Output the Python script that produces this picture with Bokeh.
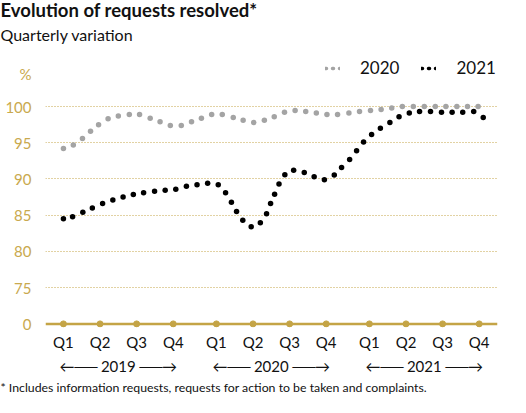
from bokeh.plotting import figure
from bokeh.models import (FixedTicker, Span, Legend, LegendItem, Title, LinearAxis, Range1d)
from bokeh.embed import file_html
from bokeh.resources import INLINE

# ---------------- data ----------------
quarters = ["Q1", "Q2", "Q3", "Q4"]
years = ["2019", "2020", "2021"]
series_names = ["2020", "2021"]

# x is in "quarter" units along the time axis (Q1 2019 = 0), y in %
gray_x = [0.0, 0.27, 0.52, 0.74, 0.96, 1.22, 1.50, 1.80, 2.08, 2.37, 2.64, 2.92,
          3.22, 3.50, 3.77, 4.05, 4.34, 4.64, 4.91, 5.20, 5.49, 5.76, 6.04, 6.33,
          6.62, 6.91, 7.20, 7.49, 7.80, 8.09, 8.39, 8.68, 8.97, 9.26, 9.56, 9.86,
          10.16, 10.45, 10.75, 11.04, 11.33]
gray_y = [94.2, 94.7, 95.6, 96.6, 97.5, 98.3, 98.7, 98.9, 98.9, 98.4, 97.9, 97.4,
          97.4, 97.9, 98.4, 98.9, 98.9, 98.5, 98.1, 97.8, 98.1, 98.6, 99.2, 99.45,
          99.3, 99.1, 98.9, 98.9, 99.1, 99.3, 99.45, 99.6, 99.8, 100.0, 100.0, 100.0,
          100.0, 100.0, 100.0, 100.0, 100.0]

black_x = [0.0, 0.25, 0.53, 0.79, 1.07, 1.35, 1.63, 1.91, 2.19, 2.49, 2.78, 3.07,
           3.36, 3.65, 3.94, 4.23, 4.43, 4.59, 4.73, 4.90, 5.13, 5.38, 5.55, 5.66,
           5.77, 5.89, 6.05, 6.29, 6.58, 6.85, 7.13, 7.40, 7.60, 7.82, 8.01, 8.20,
           8.42, 8.66, 8.92, 9.17, 9.45, 9.73, 10.03, 10.33, 10.62, 10.91, 11.21, 11.47]
black_y = [84.5, 84.8, 85.4, 86.0, 86.6, 87.1, 87.5, 87.85, 88.1, 88.3, 88.45, 88.6,
           89.0, 89.2, 89.4, 89.2, 88.1, 86.8, 85.5, 84.3, 83.4, 83.95, 85.2, 86.6,
           87.9, 89.3, 90.6, 91.2, 90.9, 90.3, 89.9, 90.55, 91.6, 92.7, 93.9, 95.1,
           96.15, 97.0, 97.8, 98.6, 99.1, 99.3, 99.3, 99.2, 99.2, 99.2, 99.3, 98.5]

y_ticks = [75, 80, 85, 90, 95, 100]

title_text = "Evolution of requests resolved*"
subtitle_text = "Quarterly variation"
footnote_text = "*  Includes information requests, requests for action to be taken and complaints."

# ---------------- layout / style ----------------
YEAR_GAP = 1.18          # extra space between years, in quarter units
BREAK_POS = 70           # where the "0" of the broken axis is drawn
PCT_POS = 104.5          # where the "%" unit label sits
GOLD = "#C4A446"
GOLD_TXT = "#C9A94E"
GRAY = "#A4A4A4"
INK = "#111111"
FONT = "Lato"
TXT_OFFSET = -45

qpos = []
for yi in range(len(years)):
    for qi in range(len(quarters)):
        qpos.append(round(yi * (len(quarters) - 1 + YEAR_GAP) + qi, 2))
year_centers = [round(sum(qpos[i * 4:(i + 1) * 4]) / 4, 3) for i in range(len(years))]

p = figure(width=510, height=397, output_backend="svg", toolbar_location=None,
           x_range=Range1d(-0.49, 11.86), y_range=Range1d(69.5, 107.46),
           min_border_left=45, min_border_right=13, min_border_top=52,
           min_border_bottom=70, title=None)
p.outline_line_color = None
p.background_fill_color = "white"
p.border_fill_color = "white"

# grid
p.xgrid.visible = False
p.ygrid.ticker = FixedTicker(ticks=y_ticks)
p.ygrid.grid_line_color = GOLD
p.ygrid.grid_line_dash = "1 2"
p.ygrid.grid_line_width = 1

def plain_axis(ax, color, standoff):
    ax.axis_line_color = None
    ax.major_tick_line_color = None
    ax.minor_tick_line_color = None
    ax.major_tick_out = 0
    ax.major_tick_in = 0
    ax.minor_tick_out = 0
    ax.minor_tick_in = 0
    ax.major_label_text_color = color
    ax.major_label_text_font = FONT
    ax.major_label_text_font_size = "15px"
    ax.major_label_standoff = standoff

# y axis (broken: 0 shown at BREAK_POS)
yax = p.yaxis[0]
yax.ticker = FixedTicker(ticks=[BREAK_POS] + y_ticks + [PCT_POS])
yax.major_label_overrides = {BREAK_POS: "0", PCT_POS: "%"}
plain_axis(yax, GOLD_TXT, 14)

# x axis: quarters
xax = p.xaxis[0]
xax.ticker = FixedTicker(ticks=qpos)
xax.major_label_overrides = {q: quarters[i % 4] for i, q in enumerate(qpos)}
plain_axis(xax, INK, 5)

# second x axis: years with arrows
yrax = LinearAxis(ticker=FixedTicker(ticks=year_centers))
yrax.major_label_overrides = {c: "\u2190\u2500\u2500 " + years[i] + " \u2500\u2500\u2192"
                              for i, c in enumerate(year_centers)}
plain_axis(yrax, INK, 3)
p.add_layout(yrax, "below")

# zero line with quarter markers
p.add_layout(Span(location=BREAK_POS, dimension="width", line_color=GOLD, line_width=2.5))
p.scatter(qpos, [BREAK_POS] * len(qpos), size=6, color=GOLD)

# series
p.scatter(gray_x, gray_y, size=5.5, color=GRAY, line_color=None)
p.scatter(black_x, black_y, size=5.5, color="black", line_color=None)

# hidden dotted lines, used only for the legend swatches
lg_gray = p.line(gray_x, gray_y, line_color=GRAY, line_width=3.5, line_dash="1 6",
                 line_cap="round", visible=False)
lg_black = p.line(black_x, black_y, line_color="black", line_width=3.5, line_dash="1 6",
                  line_cap="round", visible=False)
legend = Legend(items=[LegendItem(label=series_names[0], renderers=[lg_gray]),
                       LegendItem(label=series_names[1], renderers=[lg_black])],
                orientation="horizontal", location=(280, 249),
                glyph_width=15, glyph_height=16, label_height=16, label_standoff=20,
                spacing=22, padding=0, margin=0, border_line_color=None,
                background_fill_alpha=0, label_text_font=FONT,
                label_text_font_size="17px", label_text_color=INK,
                click_policy="none")
p.add_layout(legend)

# titles (first added sits nearest the frame)
p.add_layout(Title(text=subtitle_text, text_font=FONT, text_font_size="16px",
                   text_font_style="normal", text_color=INK, align="left",
                   offset=TXT_OFFSET, standoff=17), "above")
p.add_layout(Title(text=title_text, text_font=FONT, text_font_size="18.5px",
                   text_font_style="bold", text_color=INK, align="left",
                   offset=TXT_OFFSET, standoff=-12), "above")

# footnote
p.add_layout(Title(text=footnote_text, text_font=FONT, text_font_size="12.3px",
                   text_font_style="normal", text_color=INK, align="left",
                   offset=TXT_OFFSET, standoff=0), "below")

open("out.html", "w").write(file_html(p, INLINE))
